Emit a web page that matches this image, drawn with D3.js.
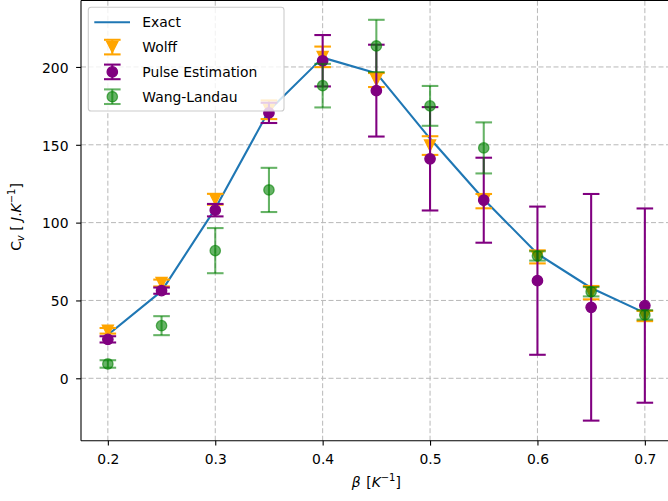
<!DOCTYPE html>
<html>
<head>
<meta charset="utf-8">
<script src="https://cdn.jsdelivr.net/npm/d3@7"></script>
<style>
  html, body { margin: 0; padding: 0; background: #fff; }
  svg { display: block; font-family: "DejaVu Sans", sans-serif; }
</style>
</head>
<body>
<svg id="chart" width="668" height="501"></svg>
<script>
// Inverse temperature samples
const betas = [0.2, 0.25, 0.3, 0.35, 0.4, 0.45, 0.5, 0.55, 0.6, 0.65, 0.7];

// Exact heat capacity
const exactCv = [28, 56, 109, 172, 206, 196, 154, 115, 80, 58, 42];

// Wolff cluster estimates and errors
const wolffCv  = [30.5, 61.2, 115, 172.5, 206.5, 191.6, 149.5, 113.8, 78, 55, 40];
const wolffErr = [1.8, 2.2, 3.5, 6, 6.6, 4.5, 6, 4.6, 4.2, 4.3, 3.3];

// Pulse estimation values and errors
const pulseCv  = [25, 56.3, 108, 170.5, 204, 184.8, 141, 114.4, 62.7, 45.6, 46.7];
const pulseErr = [2, 2, 4, 6.5, 16.5, 29.5, 33.2, 27.3, 47.6, 72.8, 62.4];

// Wang-Landau values and errors
const wlCv  = [9.2, 33.8, 82, 121, 188, 213.5, 175, 148, 78.6, 55.6, 40.7];
const wlErr = [2.4, 6.1, 14.5, 14.2, 14, 16.8, 12.8, 16.4, 3, 3, 3];

const xTicks = [0.2, 0.3, 0.4, 0.5, 0.6, 0.7];
const yTicks = [0, 50, 100, 150, 200];

const svg = d3.select("#chart");
const FS = 13.9;

const x = d3.scaleLinear().domain([0.175, 0.725]).range([81, 671.7]);
const y = d3.scaleLinear().domain([-40.1, 242.7]).range([440.7, 0.5]);
const [x0, x1] = x.range();
const [yb, yt] = y.range();

// dashed grid
const grid = svg.append("g").attr("stroke", "#b8b8b8").attr("stroke-width", 1)
  .attr("stroke-dasharray", "5,2.5").attr("fill", "none");
grid.selectAll(".gx").data(xTicks).join("line")
  .attr("x1", d => x(d)).attr("x2", d => x(d)).attr("y1", yb).attr("y2", yt);
grid.selectAll(".gy").data(yTicks).join("line")
  .attr("y1", d => y(d)).attr("y2", d => y(d)).attr("x1", x0).attr("x2", x1);

// exact curve
const line = d3.line().x((d, i) => x(betas[i])).y(d => y(d));
svg.append("path").datum(exactCv).attr("d", line)
  .attr("fill", "none").attr("stroke", "#1f77b4").attr("stroke-width", 2.1)
  .attr("stroke-linejoin", "round").attr("stroke-linecap", "square");

const CAP = 8.3;
const MR = 5.2;

function errorSeries(vals, errs, color, opacity, marker) {
  const g = svg.append("g");
  const pts = betas.map((b, i) => ({ b, v: vals[i], e: errs[i] }));
  pts.forEach(p => {
    const cx = x(p.b);
    const gs = g.append("g").attr("stroke", color).attr("stroke-opacity", opacity)
      .attr("stroke-width", 2.08);
    gs.append("line").attr("x1", cx).attr("x2", cx)
      .attr("y1", y(p.v - p.e)).attr("y2", y(p.v + p.e));
    [p.v - p.e, p.v + p.e].forEach(v => {
      gs.append("line").attr("x1", cx - CAP).attr("x2", cx + CAP)
        .attr("y1", y(v)).attr("y2", y(v));
    });
  });
  pts.forEach(p => drawMarker(g, x(p.b), y(p.v), color, opacity, marker));
}

function drawMarker(g, cx, cy, color, opacity, marker) {
  if (marker === "v") {
    const s = 5.56;
    g.append("path")
      .attr("d", `M${cx - s},${cy - s}L${cx + s},${cy - s}L${cx},${cy + s}Z`)
      .attr("fill", color).attr("fill-opacity", opacity)
      .attr("stroke", color).attr("stroke-opacity", opacity).attr("stroke-width", 1.3)
      .attr("stroke-linejoin", "miter");
  } else {
    g.append("circle").attr("cx", cx).attr("cy", cy).attr("r", MR)
      .attr("fill", color).attr("fill-opacity", opacity)
      .attr("stroke", color).attr("stroke-opacity", opacity).attr("stroke-width", 1.3);
  }
}

errorSeries(wolffCv, wolffErr, "#ffa500", 1, "v");
errorSeries(pulseCv, pulseErr, "#800080", 1, "o");
errorSeries(wlCv, wlErr, "#008000", 0.6, "o");

// axes
const xAxis = d3.axisBottom(x).tickValues(xTicks).tickFormat(d3.format(".1f"))
  .tickSizeInner(4.9).tickSizeOuter(0).tickPadding(8.6);
const yAxis = d3.axisLeft(y).tickValues(yTicks).tickFormat(d3.format("d"))
  .tickSizeInner(4.9).tickSizeOuter(0).tickPadding(7.6);

const gx = svg.append("g").attr("transform", `translate(0,${yb})`).call(xAxis);
const gy = svg.append("g").attr("transform", `translate(${x0},0)`).call(yAxis);
[gx, gy].forEach(g => {
  g.select(".domain").remove();
  g.selectAll(".tick line").attr("stroke", "#000").attr("stroke-width", 1.1);
  g.selectAll(".tick text").attr("fill", "#000").style("font-size", FS + "px")
    .style("font-family", "DejaVu Sans");
});
gy.selectAll(".tick text").attr("dy", "0.38em");

// spines
const sp = svg.append("g").attr("stroke", "#000").attr("stroke-width", 1.1);
sp.append("line").attr("x1", x0).attr("x2", x1).attr("y1", yb).attr("y2", yb);
sp.append("line").attr("x1", x0).attr("x2", x1).attr("y1", yt).attr("y2", yt);
sp.append("line").attr("x1", x0).attr("x2", x0).attr("y1", yb).attr("y2", yt);
sp.append("line").attr("x1", x1).attr("x2", x1).attr("y1", yb).attr("y2", yt);

// x label
const xl = svg.append("text").attr("x", (x0 + x1) / 2).attr("y", 487)
  .attr("text-anchor", "middle").style("font-size", FS + "px").attr("fill", "#000");
xl.append("tspan").style("font-style", "italic").text("β");
xl.append("tspan").text("\u2009\u2009[");
xl.append("tspan").style("font-style", "italic").text("K");
xl.append("tspan").attr("dy", -6).style("font-size", "10px").text("−1");
xl.append("tspan").attr("dy", 6).text("]");

// y label
const yl = svg.append("text").attr("transform", `translate(21,217) rotate(-90)`)
  .attr("text-anchor", "middle").style("font-size", FS + "px").attr("fill", "#000");
yl.append("tspan").text("C");
yl.append("tspan").attr("dy", 3).style("font-size", "10px").style("font-style", "italic").text("v");
yl.append("tspan").attr("dy", -3).text(" [ ");
yl.append("tspan").style("font-style", "italic").text("J");
yl.append("tspan").text(".");
yl.append("tspan").style("font-style", "italic").text("K");
yl.append("tspan").attr("dy", -6).style("font-size", "10px").text("−1");
yl.append("tspan").attr("dy", 6).text("]");

// legend
const legendItems = [
  { label: "Exact", kind: "line", color: "#1f77b4" },
  { label: "Wolff", kind: "v", color: "#ffa500", op: 1 },
  { label: "Pulse Estimation", kind: "o", color: "#800080", op: 1 },
  { label: "Wang-Landau", kind: "o", color: "#008000", op: 0.6 }
];
const lg = svg.append("g");
lg.append("rect").attr("x", 88.3).attr("y", 7.3).attr("width", 195.7).attr("height", 103.7)
  .attr("rx", 2.8).attr("fill", "#fff").attr("fill-opacity", 0.8)
  .attr("stroke", "#cccccc").attr("stroke-width", 1.1);
legendItems.forEach((it, i) => {
  const cy = 22.3 + i * 24.8;
  const hx = 112.3;
  if (it.kind === "line") {
    lg.append("line").attr("x1", 94.3).attr("x2", 130).attr("y1", cy).attr("y2", cy)
      .attr("stroke", it.color).attr("stroke-width", 2.1);
  } else {
    const gs = lg.append("g").attr("stroke", it.color).attr("stroke-opacity", it.op)
      .attr("stroke-width", 2.08);
    gs.append("line").attr("x1", hx).attr("x2", hx).attr("y1", cy - 7.3).attr("y2", cy + 7.3);
    [cy - 7.3, cy + 7.3].forEach(v => gs.append("line")
      .attr("x1", hx - CAP).attr("x2", hx + CAP).attr("y1", v).attr("y2", v));
    drawMarker(lg, hx, cy, it.color, it.op, it.kind);
  }
  lg.append("text").attr("x", 142.3).attr("y", cy + 5).style("font-size", FS + "px")
    .attr("fill", "#000").text(it.label);
});
</script>
</body>
</html>
